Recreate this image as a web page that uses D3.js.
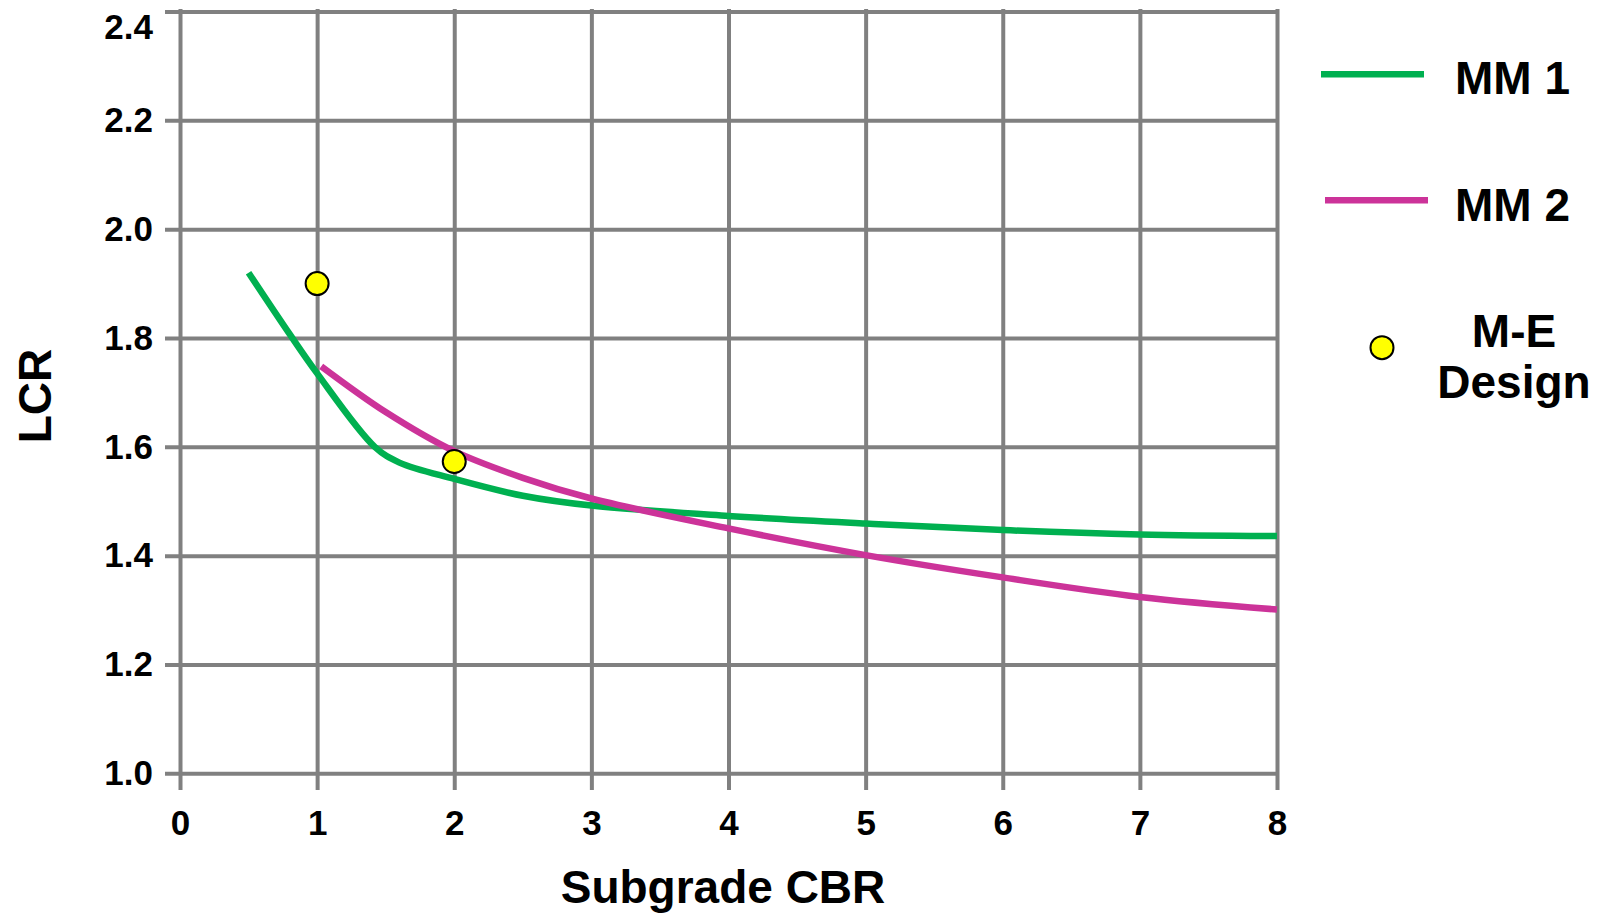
<!DOCTYPE html>
<html>
<head>
<meta charset="utf-8">
<script src="https://cdn.jsdelivr.net/npm/d3@7"></script>
<style>
  body { margin: 0; background: #fff; }
  text { font-family: "Liberation Sans", Arial, sans-serif; font-weight: bold; fill: #000; }
</style>
</head>
<body>
<div id="chart"></div>
<script>
//x and y tick values
let xTicks = [0, 1, 2, 3, 4, 5, 6, 7, 8];
let yTicks = [1.0, 1.2, 1.4, 1.6, 1.8, 2.0, 2.2, 2.4];

//MM 1 curve (subgrade CBR, LCR)
let mm1CBR = [0.5, 0.8, 1.0, 1.42, 1.6, 2.0, 2.5, 3, 4, 5, 6, 7, 8];
let mm1LCR = [1.92, 1.807, 1.735, 1.60, 1.571, 1.541, 1.510, 1.492, 1.473, 1.459, 1.447, 1.439, 1.436];

//MM 2 curve
let mm2CBR = [1.03, 1.5, 2.0, 2.5, 3, 4, 5, 6, 7, 8];
let mm2LCR = [1.748, 1.664, 1.592, 1.543, 1.505, 1.450, 1.401, 1.360, 1.324, 1.301];

//M-E design points
let meCBR = [1.0, 2.0];
let meLCR = [1.90, 1.573];

let width = 1609, height = 917;

let svg = d3.select("#chart")
    .append("svg")
    .attr("width", width)
    .attr("height", height);

//scales
let x = d3.scaleLinear().domain([0, 8]).range([180, 1277]);
let y = d3.scaleLinear().domain([1.0, 2.4]).range([773.3, 11.5]);

let gridColor = "#808080";

//horizontal grid + y labels
let yAxis = svg.append("g")
    .attr("transform", `translate(165,0)`)
    .call(d3.axisLeft(y).tickValues(yTicks).tickFormat(d3.format(".1f"))
        .tickSize(-(x(8) - 165)).tickPadding(12));
yAxis.select(".domain").remove();
yAxis.selectAll("line").attr("stroke", gridColor).attr("stroke-width", 4);
yAxis.selectAll("text").style("font-size", "35px")
    .style("font-family", "'Liberation Sans', Arial, sans-serif").style("font-weight", "bold");
//top label sits just below the top grid line so it is not cut off
yAxis.selectAll("text").filter(d => d === 2.4).attr("dy", "0.71em").attr("y", 2);

//vertical grid + x labels
let xBase = 790;
let xAxis = svg.append("g")
    .attr("transform", `translate(0,${xBase})`)
    .call(d3.axisBottom(x).tickValues(xTicks).tickFormat(d3.format("d"))
        .tickSize(-(xBase - 9)).tickPadding(20));
xAxis.select(".domain").remove();
xAxis.selectAll("line").attr("stroke", gridColor).attr("stroke-width", 4);
xAxis.selectAll("text").style("font-size", "35px")
    .style("font-family", "'Liberation Sans', Arial, sans-serif").style("font-weight", "bold");

//curves
let line = d3.line()
    .x(d => x(d[0]))
    .y(d => y(d[1]))
    .curve(d3.curveCatmullRom.alpha(0.5));

svg.append("path")
    .datum(d3.zip(mm1CBR, mm1LCR))
    .attr("d", line)
    .attr("fill", "none")
    .attr("stroke", "#00b050")
    .attr("stroke-width", 6.5);

svg.append("path")
    .datum(d3.zip(mm2CBR, mm2LCR))
    .attr("d", line)
    .attr("fill", "none")
    .attr("stroke", "#cc3399")
    .attr("stroke-width", 6.5);

//M-E points
svg.selectAll(".me")
    .data(d3.zip(meCBR, meLCR))
    .enter()
    .append("circle")
    .attr("class", "me")
    .attr("cx", d => x(d[0]))
    .attr("cy", d => y(d[1]))
    .attr("r", 11.5)
    .attr("fill", "#ffff00")
    .attr("stroke", "#000")
    .attr("stroke-width", 2);

//axis titles
svg.append("text")
    .attr("x", 723)
    .attr("y", 903)
    .style("text-anchor", "middle")
    .style("font-size", "46px")
    .text("Subgrade CBR");

svg.append("text")
    .attr("transform", `translate(51,396) rotate(-90)`)
    .style("text-anchor", "middle")
    .style("font-size", "46px")
    .text("LCR");

//legend
let legend = svg.append("g");
legend.append("line")
    .attr("x1", 1321).attr("x2", 1424).attr("y1", 74.3).attr("y2", 74.3)
    .attr("stroke", "#00b050").attr("stroke-width", 6.5);
legend.append("text")
    .attr("x", 1455).attr("y", 94)
    .style("font-size", "46px")
    .text("MM 1");

legend.append("line")
    .attr("x1", 1325).attr("x2", 1428).attr("y1", 200.3).attr("y2", 200.3)
    .attr("stroke", "#cc3399").attr("stroke-width", 6.5);
legend.append("text")
    .attr("x", 1455).attr("y", 220.7)
    .style("font-size", "46px")
    .text("MM 2");

legend.append("circle")
    .attr("cx", 1382).attr("cy", 347.7).attr("r", 11.5)
    .attr("fill", "#ffff00").attr("stroke", "#000").attr("stroke-width", 2);
legend.append("text")
    .attr("x", 1514).attr("y", 346.7)
    .style("text-anchor", "middle")
    .style("font-size", "46px")
    .text("M-E");
legend.append("text")
    .attr("x", 1514).attr("y", 398.3)
    .style("text-anchor", "middle")
    .style("font-size", "46px")
    .text("Design");
</script>
</body>
</html>
